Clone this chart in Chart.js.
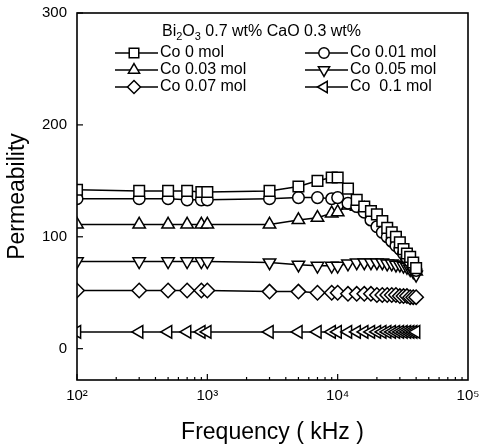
<!DOCTYPE html>
<html><head><meta charset="utf-8">
<script src="https://cdn.jsdelivr.net/npm/chart.js@4"></script>
<style>html,body{margin:0;padding:0;background:#fff}</style>
</head><body>
<canvas id="c" width="480" height="444"></canvas>
<script>
// ---- data ----
const frequencies = [100,300,500,700,900,1000,3000,5000,7000,9000,10000,12000,14000,16000,18000,20000,22000,24000,26000,28000,30000,32000,34000,36000,38000,40000];
const co0   = [142,141,141,141,140,140,141,145,150,153,153,143,133,127,123,120,114,108,104,100,95,89,85,82,77,72];
const co001 = [134,134,134,133,133,133,134,135,135,134,135,130,127,122,115,109,104,100,96,92,89,85,81,78,74,70];
const co003 = [111,111,111,111,111,111,111,115,117,121,122,128,127,125,121,117,111,106,101,96,92,88,83,79,74,69];
const co005 = [78,78,78,78,78,78,77,75,74,74,74,76,77,77,77,77,77,76,76,75,75,74,73,71,69,66];
const co007 = [52,52,52,52,52,52,51,51,50,50,50,49,49,49,49,48,48,48,48,48,47,47,47,46,46,46];
const co01  = [15,15,15,15,15,15,15,15,15,15,15,15,15,15,15,15,15,15,15,15,15,15,15,15,15,15];
const seriesLabels = ['Co 0 mol','Co 0.01 mol','Co 0.03 mol','Co 0.05 mol','Co 0.07 mol','Co  0.1 mol'];
const seriesValues = [co0, co001, co003, co005, co007, co01];
const xTickValues = [100,1000,10000,100000];
const xTickLabels = ['10\u00B2','10\u00B3','10\u2074','10\u2075'];
const yTickValues = [0,100,200,300];
const xTitle = 'Frequency ( kHz )';
const yTitle = 'Permeability';

// ---- styles ----
const pointStyles = ['rect','circle','triangle','triangle','rectRot','triangle'];
const pointRotations = [0,0,0,180,0,-90];
const pointRadii = [7.5,5.8,7.2,7.2,7.2,7.2];
const FONT = '"Liberation Sans", Arial, Helvetica, sans-serif';

function drawMarker(ctx, style, rot, r, x, y){
  ctx.beginPath();
  if (style === 'rect') { const s = r*Math.SQRT1_2; ctx.rect(x-s,y-s,2*s,2*s); }
  else if (style === 'circle') { ctx.arc(x,y,r,0,Math.PI*2); }
  else if (style === 'rectRot') { ctx.moveTo(x-r,y); ctx.lineTo(x,y-r); ctx.lineTo(x+r,y); ctx.lineTo(x,y+r); ctx.closePath(); }
  else { let rad = rot*Math.PI/180;
    ctx.moveTo(x+Math.sin(rad)*r, y-Math.cos(rad)*r); rad += 2*Math.PI/3;
    ctx.lineTo(x+Math.sin(rad)*r, y-Math.cos(rad)*r); rad += 2*Math.PI/3;
    ctx.lineTo(x+Math.sin(rad)*r, y-Math.cos(rad)*r); ctx.closePath(); }
  ctx.fill(); ctx.stroke();
}

const framePlugin = {
  id: 'frameTicks',
  afterDatasetsDraw(chart){
    const {ctx, chartArea: a, scales: {x, y}} = chart;
    ctx.save();
    ctx.strokeStyle = '#000'; ctx.lineWidth = 1.6;
    ctx.strokeRect(a.left, a.top, a.right-a.left, a.bottom-a.top);
    ctx.lineWidth = 1.2;
    for (let d = 2; d < 5; d++) {
      for (let m = 1; m <= 9; m++) {
        const px = x.getPixelForValue(m*Math.pow(10,d));
        const len = m === 1 ? 6 : 3;
        ctx.beginPath(); ctx.moveTo(px, a.bottom); ctx.lineTo(px, a.bottom-len); ctx.stroke();
      }
    }
    yTickValues.forEach(v => {
      const py = y.getPixelForValue(v);
      ctx.beginPath(); ctx.moveTo(a.left, py); ctx.lineTo(a.left+6, py); ctx.stroke();
    });
    ctx.restore();
  }
};

const legendPlugin = {
  id: 'customLegend',
  afterDraw(chart){
    const ctx = chart.ctx;
    ctx.save();
    ctx.textBaseline = 'middle';
    ctx.fillStyle = '#000';
    let tx = 162; const ty = 32;
    const big = '16px ' + FONT, small = '11px ' + FONT;
    const parts = [['Bi',0],['2',1],['O',0],['3',1],[' 0.7 wt% CaO 0.3 wt%',0]];
    parts.forEach(([t,sub]) => {
      ctx.font = sub ? small : big;
      ctx.fillText(t, tx, sub ? ty+5 : ty);
      tx += ctx.measureText(t).width;
    });
    ctx.font = big;
    chart.data.datasets.forEach((ds, i) => {
      const col = i % 2, row = Math.floor(i/2);
      const lx = col ? 305 : 115;
      const ly = 53 + row*17;
      ctx.strokeStyle = '#000'; ctx.lineWidth = 1.5;
      ctx.beginPath(); ctx.moveTo(lx, ly); ctx.lineTo(lx+43, ly); ctx.stroke();
      ctx.fillStyle = '#fff';
      drawMarker(ctx, ds.pointStyle, ds.pointRotation, ds.pointRadius*0.9, lx+19, ly);
      ctx.fillStyle = '#000';
      ctx.fillText(ds.label, lx+45, ly);
    });
    ctx.restore();
  }
};

const datasets = seriesValues.map((vals, i) => ({
  label: seriesLabels[i],
  data: frequencies.map((f, j) => ({x: f, y: vals[j]})),
  borderColor: '#000',
  backgroundColor: '#fff',
  borderWidth: 1.5,
  pointStyle: pointStyles[i],
  pointRotation: pointRotations[i],
  pointRadius: pointRadii[i],
  pointBorderWidth: 1.5,
  pointBorderColor: '#000',
  pointBackgroundColor: '#fff',
  tension: 0,
  fill: false
}));

function zeroPad(s){ s.paddingTop = 0; s.paddingBottom = 0; s.paddingLeft = 0; s.paddingRight = 0; }

new Chart(document.getElementById('c'), {
  type: 'line',
  data: { datasets },
  options: {
    responsive: false,
    animation: false,
    devicePixelRatio: 1,
    layout: { padding: { left: 0, right: 12, top: 13, bottom: 0 } },
    plugins: { legend: { display: false }, tooltip: { enabled: false } },
    scales: {
      x: {
        type: 'logarithmic',
        min: 100, max: 100000,
        grid: { display: false, drawTicks: false },
        border: { display: false },
        afterBuildTicks: s => { s.ticks = xTickValues.map(v => ({value: v, major: true})); },
        afterFit: s => { s.height = 64; zeroPad(s); },
        ticks: {
          autoSkip: false, maxRotation: 0, padding: 7,
          color: '#000', font: { family: FONT, size: 15 },
          callback: (v, idx) => xTickLabels[idx]
        },
        title: { display: true, text: xTitle, color: '#000', padding: 0,
                 font: { family: FONT, size: 23, lineHeight: 1.0 } }
      },
      y: {
        min: -28, max: 300,
        grid: { display: false, drawTicks: false },
        border: { display: false },
        afterBuildTicks: s => { s.ticks = yTickValues.map(v => ({value: v})); },
        afterFit: s => { s.width = 77; zeroPad(s); },
        ticks: { padding: 10, color: '#000', font: { family: FONT, size: 15 } },
        title: { display: true, text: yTitle, color: '#000', padding: { top: 4, bottom: 0 },
                 font: { family: FONT, size: 23, lineHeight: 1.2 } }
      }
    }
  },
  plugins: [framePlugin, legendPlugin]
});
</script>
</body></html>
